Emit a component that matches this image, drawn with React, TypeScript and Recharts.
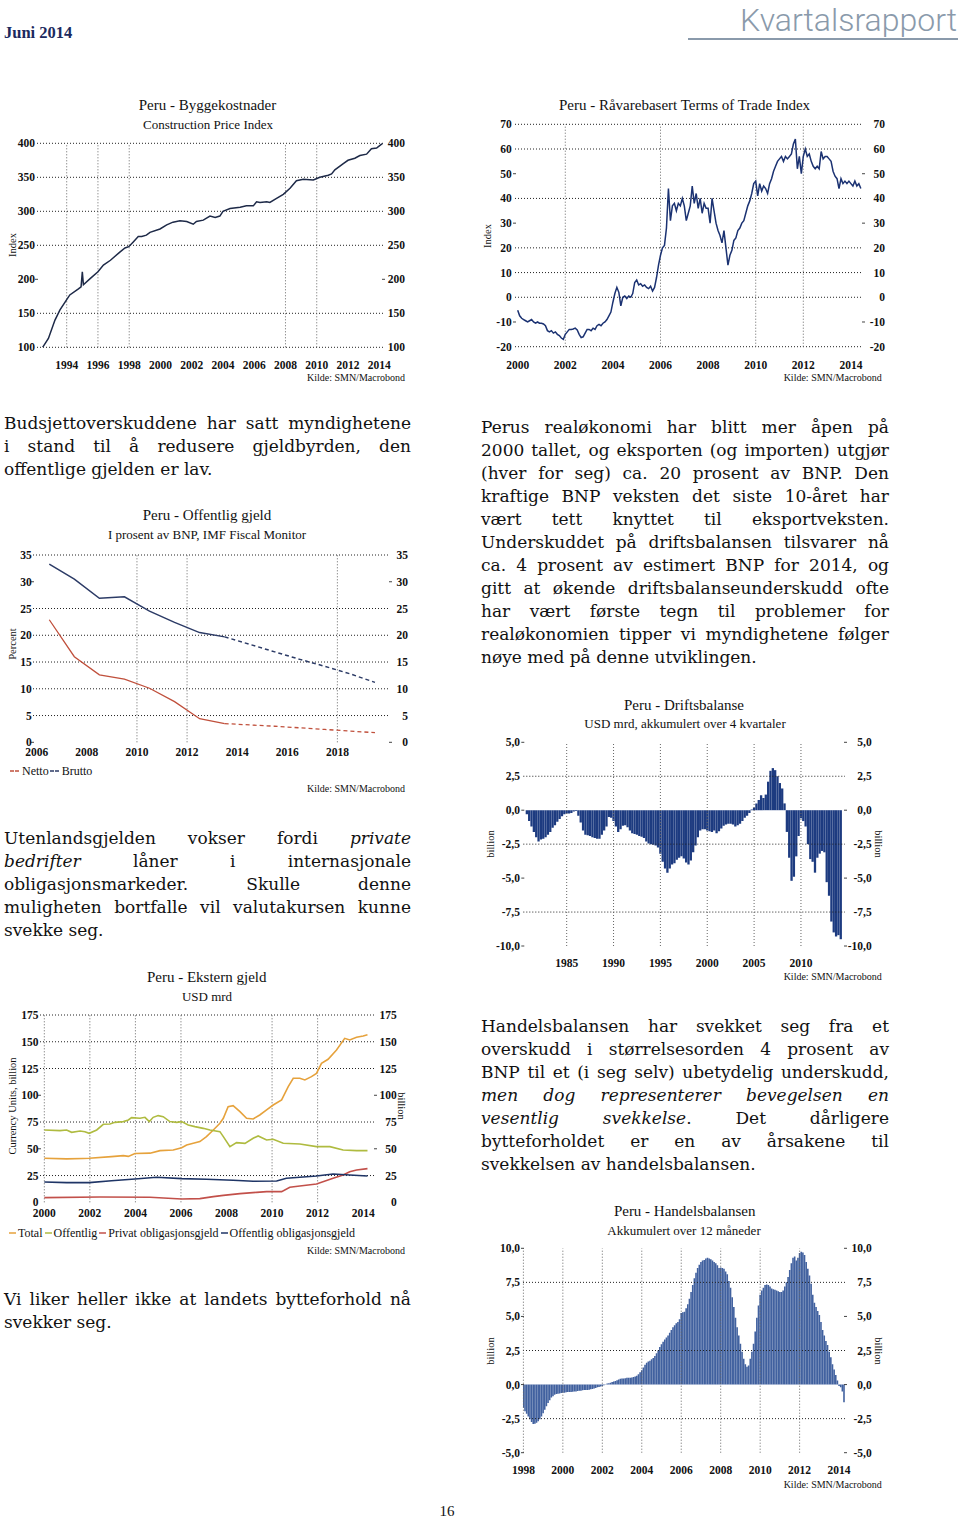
import React from 'react';
import { ComposedChart, Line, Bar, XAxis, YAxis, ReferenceLine } from 'recharts';

const SERIF = '"Liberation Serif", "Times New Roman", serif';
const BODY = '"DejaVu Serif", serif';

// Peru - Byggekostnader (Construction Price Index)
const byggYears = [
  1992.46, 1992.83, 1993.25, 1993.57, 1994.0, 1994.2, 1994.75, 1994.92, 1995.0, 1995.07, 1995.5,
  1996.0, 1996.35, 1996.8, 1997.4, 1997.73, 1997.97, 1998.26, 1998.58, 1998.8, 1999.1, 1999.33,
  1999.97, 2000.4, 2000.8, 2001.25, 2001.68, 2002.1, 2002.3, 2002.74, 2002.95, 2003.17, 2003.5,
  2003.8, 2004.0, 2004.45, 2005.1, 2005.5, 2005.94, 2006.15, 2006.37, 2006.8, 2007.0, 2007.43,
  2007.86, 2008.29, 2008.7, 2009.14, 2009.78, 2010.2, 2010.74, 2010.95, 2011.16, 2011.7, 2012.0,
  2012.44, 2012.76, 2013.19, 2013.5, 2013.83, 2014.21,
];
const byggValues = [
  100, 113, 140, 155, 170, 177, 186, 189, 211, 192, 201,
  211, 221, 228, 240, 246, 248, 255, 263, 263, 265, 269,
  274, 280, 284, 286, 285, 281, 285, 287, 290, 293, 291,
  293, 300, 304, 306, 308, 308, 314, 313, 314, 313, 319,
  325, 334, 345, 347, 346, 350, 353, 355, 361, 370, 375,
  378, 382, 384, 392, 393, 400,
];

// Peru - Råvarebasert Terms of Trade Index, monthly from Jan 2000
const totStart = 2000;
const totValues = [
  -5.2, -7.5, -8.5, -9, -9.5, -10, -9.5, -9, -10, -10.5, -10, -10.5,
  -10.5, -10.8, -11.5, -13.5, -14, -13.5, -14.5, -14, -15, -15.5, -16.5, -17,
  -15, -14, -13, -13, -12.8, -12.5, -13.2, -15, -16.3, -16, -14.5, -13,
  -13, -13.5, -12.5, -13, -11.5, -11, -11.5, -10.5, -10, -9, -7.5, -6,
  -2, 1.5, 4, 2, -3.5, 0, 0.5, -0.5, 0.5, 0, 1.5, 6,
  7, 5, 5.5, 4.5, 5, 4, 3.5, 4.5, 2.5, 4, 8, 13,
  17, 20, 21, 28, 44, 31, 37, 38, 35, 38, 37, 40,
  37, 31, 34, 37, 45, 38, 42, 36, 40, 34, 38, 36,
  36, 30, 40, 35, 30, 27, 25, 22, 27, 20, 13, 17,
  19, 23, 24, 27, 28, 30, 31, 34, 37, 39, 42, 46,
  47, 41, 46, 43, 45, 44, 42, 46, 48, 51, 53, 55,
  56, 57, 55, 57, 56, 57, 58, 62, 64, 52, 57, 50,
  57, 60, 57, 58, 55, 53, 52, 53, 52, 59, 56, 57,
  57, 56, 55, 51, 49, 48, 44, 48, 46, 47, 46, 47,
  46, 45, 47, 45, 46, 44,
];

// Peru - Offentlig gjeld, % av BNP (IMF), prognose etter 2013
const gjeldYears = [2006.5, 2007.5, 2008.5, 2009.5, 2010.5, 2011.5, 2012.5, 2013.5, 2014.5, 2015.5, 2016.5, 2017.5, 2018.5, 2019.5];
const bruttoValues = [33.3, 30.5, 26.9, 27.2, 24.5, 22.4, 20.5, 19.7, 18.3, 16.9, 15.5, 14.2, 12.8, 11.2];
const nettoValues = [22.9, 16.0, 12.6, 11.8, 10.1, 7.6, 4.4, 3.5, 3.25, 3.0, 2.7, 2.4, 2.1, 1.8];
const lastActual = 2013.5;

// Peru - Driftsbalanse, quarterly from Q4 1980
const driftStart = 1980.75;
const driftValues = [
  -0.3, -0.8, -1.2, -1.6, -2.0, -2.3, -2.15, -2.1, -2.0, -1.8, -1.6, -1.3, -1.1, -0.85, -0.65, -0.45,
  -0.3, -0.25, -0.25, -0.2, -0.1, -0.05, -0.4, -0.9, -1.5, -1.8, -1.85, -1.9, -2.0, -2.05, -2.1, -2.1,
  -1.8, -1.5, -1.2, -0.5, -0.55, -0.8, -1.2, -1.6, -1.4, -1.15, -1.1, -1.25, -1.5, -1.7, -1.75, -1.8,
  -1.9, -1.95, -2.05, -2.3, -2.45, -2.5, -2.55, -2.6, -2.75, -3.2, -3.8, -4.3, -4.6, -4.3, -4.0, -3.9,
  -3.65, -3.5, -3.4, -3.55, -3.85, -4.0, -3.7, -3.1, -2.6, -2.0, -1.5, -1.4, -1.4, -1.5, -1.55, -1.6,
  -1.5, -1.7, -1.55, -1.35, -1.15, -1.05, -1.0, -1.0, -1.05, -1.2, -1.1, -1.0, -0.8, -0.55, -0.4, -0.2,
  0.05, 0.2, 0.5, 0.75, 1.1, 0.9, 1.15, 2.1, 2.9, 3.1, 2.95, 2.5, 2.0, 1.6, 0.5, -1.6,
  -3.5, -5.2, -4.9, -3.4, -1.9, -0.6, -0.8, -1.2, -2.5, -3.6, -3.8, -4.6, -3.5, -3.2, -3.0, -3.1,
  -5.3, -6.3, -8.2, -9.0, -9.3, -9.2, -9.5,
];

// Peru - Ekstern gjeld, USD mrd
const totalPts: [number, number][] = [
  [2000.0, 41.1], [2000.98, 40.6], [2001.71, 40.9], [2001.97, 41.1], [2002.95, 42.7], [2003.47, 43.6],
  [2003.69, 42.9], [2003.98, 45.6], [2004.64, 45.9], [2005.08, 48.3], [2005.66, 48.9], [2006.03, 51],
  [2006.25, 53.6], [2006.54, 55.2], [2006.83, 56.7], [2007.12, 61.4], [2007.42, 67.6], [2007.71, 73.8],
  [2007.86, 78.5], [2008.07, 89.4], [2008.29, 90.3], [2008.59, 84.7], [2008.88, 78.5], [2009.17, 77.9],
  [2009.46, 81.6], [2009.76, 86.3], [2010.05, 90.9], [2010.42, 95.6], [2010.71, 108], [2010.93, 115.9],
  [2011.22, 115.9], [2011.44, 114.3], [2011.73, 117.4], [2011.95, 120.5], [2012.17, 129.9], [2012.46, 133.6],
  [2012.83, 142.3], [2013.19, 153.2], [2013.41, 151.7], [2013.71, 154.2], [2014.0, 155.4], [2014.19, 156.6],
];
const offentligPts: [number, number][] = [
  [2000.0, 67.6], [2000.69, 67], [2000.98, 67.6], [2001.2, 65.4], [2001.57, 66.6], [2001.78, 66],
  [2001.97, 64.5], [2002.3, 67.6], [2002.59, 72.9], [2002.88, 73.2], [2003.1, 74.7], [2003.47, 75.4],
  [2003.69, 76.9], [2003.83, 79.1], [2004.2, 78.5], [2004.42, 79.4], [2004.61, 75.4], [2004.78, 79.4],
  [2005.0, 81], [2005.22, 80], [2005.51, 75.4], [2005.81, 74.7], [2006.03, 75.4], [2006.32, 72.3],
  [2006.61, 70.7], [2006.98, 69.1], [2007.27, 67.6], [2007.71, 66], [2007.86, 61.4], [2008.15, 52],
  [2008.44, 55.7], [2008.81, 55.1], [2009.17, 59.8], [2009.39, 62], [2009.76, 58.2], [2010.05, 58.9],
  [2010.49, 55.1], [2011.22, 54.5], [2011.95, 52], [2012.54, 52], [2013.12, 48.9], [2013.71, 48.3],
  [2014.19, 48.3],
];
const privatPts: [number, number][] = [
  [2000.0, 4.4], [2002.44, 5.0], [2004.64, 4.7], [2006.03, 3.1], [2006.83, 3.4], [2007.42, 5.3],
  [2007.86, 6.5], [2008.59, 8.1], [2009.32, 9.3], [2009.76, 10], [2010.42, 10], [2010.78, 14],
  [2011.22, 15.3], [2011.95, 17.1], [2012.68, 22.4], [2013.12, 25.5], [2013.41, 28.6], [2013.71, 30.2],
  [2014.19, 31.5],
];
const offObligPts: [number, number][] = [
  [2000.0, 19], [2000.98, 18.4], [2001.97, 18.4], [2002.95, 20.2], [2003.98, 21.8], [2004.93, 23.4],
  [2006.03, 22.1], [2007.12, 21.5], [2008.29, 20.6], [2009.17, 19.6], [2010.2, 19.9], [2010.63, 22.4],
  [2011.95, 24.6], [2012.68, 26.5], [2013.41, 25.5], [2014.19, 24.6],
];

// Peru - Handelsbalansen, akkumulert 12 mnd, monthly from Jan 1998
const handelStart = 1998;
const handelValues = [
  -1.7, -1.95, -2.15, -2.35, -2.55, -2.75, -2.9, -2.88, -2.8, -2.7, -2.55, -2.35,
  -2.1, -1.85, -1.6, -1.35, -1.15, -0.95, -0.85, -0.75, -0.7, -0.68, -0.65, -0.62,
  -0.6, -0.6, -0.57, -0.55, -0.55, -0.55, -0.52, -0.5, -0.5, -0.47, -0.45, -0.45,
  -0.42, -0.4, -0.4, -0.4, -0.38, -0.35, -0.32, -0.28, -0.25, -0.2, -0.17, -0.14,
  -0.1, -0.05, 0.02, 0.07, 0.1, 0.14, 0.18, 0.22, 0.27, 0.32, 0.37, 0.42,
  0.45, 0.45, 0.47, 0.5, 0.5, 0.5, 0.52, 0.55, 0.6, 0.65, 0.75, 0.9,
  1.05, 1.25, 1.45, 1.6, 1.7, 1.75, 1.85, 1.95, 2.1, 2.3, 2.5, 2.75,
  2.95, 3.15, 3.3, 3.45, 3.6, 3.8, 4.0, 4.2, 4.35, 4.5, 4.6, 4.8,
  5.25, 5.3, 5.35, 5.6, 5.9, 6.3, 6.8, 7.3, 7.8, 8.2, 8.55, 8.8,
  9.0, 9.1, 9.15, 9.25, 9.3, 9.25, 9.2, 9.1, 9.0, 8.9, 8.75, 8.55,
  8.6, 8.55, 8.5, 8.3, 8.1, 7.6, 7.1, 6.4, 5.7, 4.9, 4.2, 3.6,
  3.0, 2.4, 1.9, 1.5, 1.3, 1.4, 1.9, 2.4, 3.0, 3.9, 4.9, 5.8,
  6.6, 6.9, 7.1, 7.3, 7.35, 7.3, 7.2, 7.05, 7.0, 6.95, 6.9, 6.85,
  6.8, 6.8, 6.9, 7.2, 7.5, 7.9, 8.4, 8.9, 9.3, 9.4, 9.1, 9.3,
  9.65, 9.75, 9.7, 9.5, 9.0, 8.5, 8.0, 7.4, 6.6, 6.0, 5.7, 5.4,
  5.1, 4.6, 4.0, 3.6, 3.2, 2.9, 2.4, 2.0, 1.5, 1.1, 0.7, 0.3,
  -0.1, -0.2, -0.5, -1.3,
];

const extSeries = [
  { key: 'total', name: 'Total', color: '#e6a23c', pts: totalPts },
  { key: 'off', name: 'Offentlig', color: '#afbb40', pts: offentligPts },
  { key: 'priv', name: 'Privat obligasjonsgjeld', color: '#c2504a', pts: privatPts },
  { key: 'obl', name: 'Offentlig obligasjonsgjeld', color: '#1f3566', pts: offObligPts },
];
const gjeldSeries = [
  { name: 'Netto', color: '#c0503c' },
  { name: 'Brutto', color: '#2c3b66' },
];

const range = (a: number, b: number, s: number) => {
  const out: number[] = [];
  for (let v = a; v <= b + 1e-9; v += s) out.push(Math.round(v * 100) / 100);
  return out;
};
const comma = (v: number) => v.toFixed(1).replace('.', ',');

type PanelProps = {
  box: [number, number, number, number];
  plot: [number, number, number, number];
  xDomain: [number, number];
  xTicks: number[];
  yDomain: [number, number];
  yTicks: number[];
  gridY: number[];
  dashY: number[];
  gridX: number[];
  gapL: number;
  gapR: number;
  xOff: number;
  fmt?: (v: number) => string;
  data: any[];
  children: React.ReactNode;
};

function Panel({ box, plot, xDomain, xTicks, yDomain, yTicks, gridY, dashY, gridX, gapL, gapR, xOff, fmt = String, data, children }: PanelProps) {
  const [L, T, W, H] = box;
  const [pl, pt, pr, pb] = plot;
  const font = { fontFamily: SERIF, fontWeight: 700, fontSize: 11.5, fill: '#111' };

  const yTick = (side: 'l' | 'r') => (p: any) => {
    const v = p.payload.value;
    const tx = side === 'l' ? p.x - gapL : p.x + gapR;
    return (
      <g>
        {dashY.includes(v) && (
          <line x1={side === 'l' ? p.x - 2 : p.x - 1} x2={side === 'l' ? p.x + 1 : p.x + 2} y1={p.y} y2={p.y} stroke="#444" />
        )}
        <text x={tx} y={p.y} textAnchor="end" dominantBaseline="central" {...font}>{fmt(v)}</text>
      </g>
    );
  };
  const xTick = (p: any) => (
    <text x={p.x} y={p.y + xOff} textAnchor="middle" dominantBaseline="central" {...font}>{p.payload.value}</text>
  );

  return (
    <div style={{ position: 'absolute', left: L, top: T, width: W, height: H }}>
      <ComposedChart width={W} height={H} data={data} margin={{ top: pt - T, right: 0, bottom: T + H - pb - 20, left: 0 }}>
        <XAxis dataKey="x" type="number" domain={xDomain} ticks={xTicks} interval={0} allowDataOverflow
          axisLine={false} tickLine={false} tickSize={0} tickMargin={0} height={20} tick={xTick} />
        <YAxis yAxisId="l" orientation="left" width={pl - L} type="number" domain={yDomain} ticks={yTicks} interval={0}
          allowDataOverflow axisLine={false} tickLine={false} tickSize={0} tickMargin={0} tick={yTick('l')} />
        <YAxis yAxisId="r" orientation="right" width={L + W - pr} type="number" domain={yDomain} ticks={yTicks} interval={0}
          allowDataOverflow axisLine={false} tickLine={false} tickSize={0} tickMargin={0} tick={yTick('r')} />
        {gridY.map((v) => (
          <ReferenceLine key={'h' + v} yAxisId="l" y={v} stroke="#222" strokeDasharray="1 2" />
        ))}
        {gridX.map((v) => (
          <ReferenceLine key={'v' + v} yAxisId="l" x={v} stroke="#666" strokeDasharray="1 2" />
        ))}
        {children}
      </ComposedChart>
    </div>
  );
}

function Label({ x, y, text, size = 10.5, align = 'c', rot = 0, bold = false, color = '#111', font = SERIF }: any) {
  const tx = align === 'c' ? '-50%' : align === 'r' ? '-100%' : '0';
  return (
    <div style={{ position: 'absolute', left: x, top: y, transform: `translate(${tx}, -50%) rotate(${rot}deg)`,
      fontFamily: font, fontSize: size, fontWeight: bold ? 700 : 400, color, whiteSpace: 'nowrap', lineHeight: 1.2 }}>
      {text}
    </div>
  );
}

function Para({ x, y, w, lines }: { x: number; y: number; w: number; lines: React.ReactNode[] }) {
  return (
    <div style={{ position: 'absolute', left: x, top: y, width: w, fontFamily: BODY, fontSize: 17, lineHeight: '23px', color: '#111' }}>
      {lines.map((l, i) => (
        <div key={i} style={{ textAlign: 'justify', textAlignLast: i === lines.length - 1 ? 'left' : 'justify' }}>{l}</div>
      ))}
    </div>
  );
}

function LineKey({ color, dashed }: { color: string; dashed?: boolean }) {
  return (
    <svg width={dashed ? 10 : 7} height={4} style={{ marginRight: 1 }}>
      <line x1={0} x2={dashed ? 10 : 7} y1={2} y2={2} stroke={color} strokeWidth={1.5} strokeDasharray={dashed ? '4 1' : undefined} />
    </svg>
  );
}

export default function App() {
  const byggRows = byggYears.map((x, i) => ({ x, v: byggValues[i] }));
  const totRows = totValues.map((v, i) => ({ x: totStart + i / 12, v }));
  const gjeldRows = gjeldYears.map((x, i) => ({
    x,
    bA: x <= lastActual ? bruttoValues[i] : null,
    bF: x >= lastActual ? bruttoValues[i] : null,
    nA: x <= lastActual ? nettoValues[i] : null,
    nF: x >= lastActual ? nettoValues[i] : null,
  }));
  const driftRows = driftValues.map((v, i) => ({ x: driftStart + i / 4, v }));
  const extRows = extSeries
    .flatMap((s) => s.pts.map(([x, v]) => ({ x, [s.key]: v } as any)))
    .sort((a, b) => a.x - b.x);
  const handelRows = handelValues.map((v, i) => ({ x: handelStart + i / 12, v }));

  const kilde = 'Kilde: SMN/Macrobond';

  return (
    <div style={{ position: 'absolute', left: 0, top: 0, width: 960, height: 1518, overflow: 'hidden', background: '#fff' }}>
      {/* header */}
      <Label x={4} y={33} text="Juni 2014" size={16.5} bold align="l" color="#1b2a5e" />
      <svg width={300} height={40} style={{ position: 'absolute', left: 660, top: 0 }}>
        <text x={297} y={31} textAnchor="end" fontFamily="Roboto, sans-serif" fontWeight={300} fontSize={32} fill="#8a9aab">
          Kvartalsrapport
        </text>
      </svg>
      <div style={{ position: 'absolute', left: 688, top: 38, width: 270, height: 2, background: '#8a9aab' }} />

      {/* chart 1 */}
      <Label x={207.5} y={105} text="Peru - Byggekostnader" size={15} />
      <Label x={208} y={125} text="Construction Price Index" size={13} />
      <Label x={13} y={245} text="Index" rot={-90} />
      <Label x={405} y={378} text={kilde} size={10} align="r" />
      <Panel box={[0, 90, 420, 300]} plot={[37, 143.3, 383, 347.3]} xDomain={[1992.1, 2014.24]} xTicks={range(1994, 2014, 2)}
        yDomain={[100, 400]} yTicks={range(100, 400, 50)} gridY={[100, 150, 250, 300, 350, 400]} dashY={[200]}
        gridX={[1994, 1996, 1998, 2008, 2010]} gapL={2} gapR={22} xOff={17.7} data={byggRows}>
        <Line yAxisId="l" dataKey="v" type="linear" stroke="#1e2a48" strokeWidth={1.5} dot={false} activeDot={false} isAnimationActive={false} />
      </Panel>

      {/* chart 2 */}
      <Label x={684.5} y={105} text="Peru - Råvarebasert Terms of Trade Index" size={15} />
      <Label x={488} y={236} text="Index" rot={-90} />
      <Label x={881.7} y={378} text={kilde} size={10} align="r" />
      <Panel box={[480, 90, 420, 300]} plot={[515, 124.3, 863, 346.7]} xDomain={[1999.887, 2014.508]} xTicks={range(2000, 2014, 2)}
        yDomain={[-20, 70]} yTicks={range(-20, 70, 10)} gridY={[70, 60, 40, 20, 10, 0, -20]} dashY={[50, 30, -10]}
        gridX={[2002, 2006, 2010, 2012]} gapL={3.3} gapR={22} xOff={18.3} data={totRows}>
        <Line yAxisId="l" dataKey="v" type="linear" stroke="#1b3272" strokeWidth={1.5} dot={false} activeDot={false} isAnimationActive={false} />
      </Panel>

      {/* chart 3 */}
      <Label x={207} y={515} text="Peru - Offentlig gjeld" size={15} />
      <Label x={207} y={535} text="I prosent av BNP, IMF Fiscal Monitor" size={13} />
      <Label x={12.5} y={644} text="Percent" rot={-90} />
      <Label x={405} y={789} text={kilde} size={10} align="r" />
      <Panel box={[0, 500, 420, 300]} plot={[33, 555, 390, 742.3]} xDomain={[2005.85, 2020.1]} xTicks={range(2006, 2018, 2)}
        yDomain={[0, 35]} yTicks={range(0, 35, 5)} gridY={[35, 25, 20, 15, 10, 5]} dashY={[30, 0]}
        gridX={[2010, 2012, 2018]} gapL={1.3} gapR={18} xOff={9.7} data={gjeldRows}>
        <Line yAxisId="l" dataKey="bA" type="linear" stroke={gjeldSeries[1].color} strokeWidth={1.5} dot={false} activeDot={false} isAnimationActive={false} />
        <Line yAxisId="l" dataKey="bF" type="linear" stroke={gjeldSeries[1].color} strokeWidth={1.5} strokeDasharray="4 3" dot={false} activeDot={false} isAnimationActive={false} />
        <Line yAxisId="l" dataKey="nA" type="linear" stroke={gjeldSeries[0].color} strokeWidth={1.3} dot={false} activeDot={false} isAnimationActive={false} />
        <Line yAxisId="l" dataKey="nF" type="linear" stroke={gjeldSeries[0].color} strokeWidth={1.3} strokeDasharray="4 3" dot={false} activeDot={false} isAnimationActive={false} />
      </Panel>
      <div style={{ position: 'absolute', left: 10, top: 764, display: 'flex', alignItems: 'center', fontFamily: SERIF, fontSize: 12, lineHeight: '14px', color: '#111' }}>
        {gjeldSeries.map((s) => (
          <span key={s.name} style={{ display: 'flex', alignItems: 'center', marginRight: 1 }}>
            <LineKey color={s.color} dashed />
            <span style={{ marginLeft: 1 }}>{s.name}</span>
          </span>
        ))}
      </div>

      {/* chart 4 */}
      <Label x={684} y={705} text="Peru - Driftsbalanse" size={15} />
      <Label x={685} y={724} text="USD mrd, akkumulert over 4 kvartaler" size={13} />
      <Label x={491} y={844} text="billion" rot={-90} />
      <Label x={877.5} y={844} text="billion" rot={90} />
      <Label x={881.7} y={977} text={kilde} size={10} align="r" />
      <Panel box={[470, 690, 430, 300]} plot={[523.3, 742.3, 845, 946]} xDomain={[1980.37, 2014.7]} xTicks={range(1985, 2010, 5)}
        yDomain={[-10, 5]} yTicks={range(-10, 5, 2.5)} gridY={[2.5, -2.5, -7.5]} dashY={[5, 0, -5, -10]}
        gridX={range(1985, 2010, 5)} gapL={3.3} gapR={26.7} xOff={17} fmt={comma} data={driftRows}>
        <Bar yAxisId="l" dataKey="v" fill="#1d3b80" barSize={2.3} isAnimationActive={false} />
      </Panel>

      {/* chart 5 */}
      <Label x={206.7} y={976.7} text="Peru - Ekstern gjeld" size={15} />
      <Label x={207} y={996.7} text="USD mrd" size={13} />
      <Label x={12.5} y={1106} text="Currency Units, billion" rot={-90} />
      <Label x={401} y={1106} text="billion" rot={90} />
      <Label x={405} y={1250.7} text={kilde} size={10} align="r" />
      <Panel box={[0, 960, 420, 300]} plot={[40, 1015, 375, 1202.3]} xDomain={[1999.81, 2014.52]} xTicks={range(2000, 2014, 2)}
        yDomain={[0, 175]} yTicks={range(0, 175, 25)} gridY={[175, 150, 125, 75, 25]} dashY={[100, 50]}
        gridX={[2000, 2002, 2004, 2006, 2010, 2012]} gapL={1.5} gapR={21.7} xOff={10.4} data={extRows}>
        {extSeries.map((s) => (
          <Line key={s.key} yAxisId="l" dataKey={s.key} type="linear" stroke={s.color} strokeWidth={1.6} connectNulls dot={false} activeDot={false} isAnimationActive={false} />
        ))}
      </Panel>
      <div style={{ position: 'absolute', left: 9, top: 1226, display: 'flex', alignItems: 'center', fontFamily: SERIF, fontSize: 12, lineHeight: '14px', color: '#111' }}>
        {extSeries.map((s) => (
          <span key={s.key} style={{ display: 'flex', alignItems: 'center', marginRight: 2 }}>
            <LineKey color={s.color} />
            <span style={{ marginLeft: 1 }}>{s.name}</span>
          </span>
        ))}
      </div>

      {/* chart 6 */}
      <Label x={684.7} y={1211} text="Peru - Handelsbalansen" size={15} />
      <Label x={684} y={1231} text="Akkumulert over 12 måneder" size={13} />
      <Label x={491} y={1351} text="billion" rot={-90} />
      <Label x={877.5} y={1351} text="billion" rot={90} />
      <Label x={881.7} y={1485} text={kilde} size={10} align="r" />
      <Panel box={[470, 1195, 430, 300]} plot={[523, 1248.3, 845, 1452.7]} xDomain={[1997.98, 2014.3]} xTicks={range(1998, 2014, 2)}
        yDomain={[-5, 10]} yTicks={range(-5, 10, 2.5)} gridY={[7.5, 2.5, -2.5]} dashY={[10, 5, 0, -5]}
        gridX={range(1998, 2012, 2)} gapL={3} gapR={26.7} xOff={17.3} fmt={comma} data={handelRows}>
        <Bar yAxisId="l" dataKey="v" fill="#41619f" barSize={1.6} isAnimationActive={false} />
      </Panel>

      {/* body text */}
      <Para x={4} y={412} w={407} lines={[
        'Budsjettoverskuddene har satt myndighetene',
        'i stand til å redusere gjeldbyrden, den',
        'offentlige gjelden er lav.',
      ]} />
      <Para x={481} y={416} w={408} lines={[
        'Perus realøkonomi har blitt mer åpen på',
        '2000 tallet, og eksporten (og importen) utgjør',
        '(hver for seg) ca. 20 prosent av BNP. Den',
        'kraftige BNP veksten det siste 10-året har',
        'vært tett knyttet til eksportveksten.',
        'Underskuddet på driftsbalansen tilsvarer nå',
        'ca. 4 prosent av estimert BNP for 2014, og',
        'gitt at økende driftsbalanseunderskudd ofte',
        'har vært første tegn til problemer for',
        'realøkonomien tipper vi myndighetene følger',
        'nøye med på denne utviklingen.',
      ]} />
      <Para x={4} y={827} w={407} lines={[
        <>Utenlandsgjelden vokser fordi <i>private</i></>,
        <><i>bedrifter</i> låner i internasjonale</>,
        'obligasjonsmarkeder. Skulle denne',
        'muligheten bortfalle vil valutakursen kunne',
        'svekke seg.',
      ]} />
      <Para x={481} y={1015} w={408} lines={[
        'Handelsbalansen har svekket seg fra et',
        'overskudd i størrelsesorden 4 prosent av',
        'BNP til et (i seg selv) ubetydelig underskudd,',
        <i>men dog representerer bevegelsen en</i>,
        <><i>vesentlig svekkelse</i>. Det dårligere</>,
        'bytteforholdet er en av årsakene til',
        'svekkelsen av handelsbalansen.',
      ]} />
      <Para x={4} y={1288} w={407} lines={[
        'Vi liker heller ikke at landets bytteforhold nå',
        'svekker seg.',
      ]} />

      <Label x={447} y={1511} text="16" size={15} />
    </div>
  );
}
